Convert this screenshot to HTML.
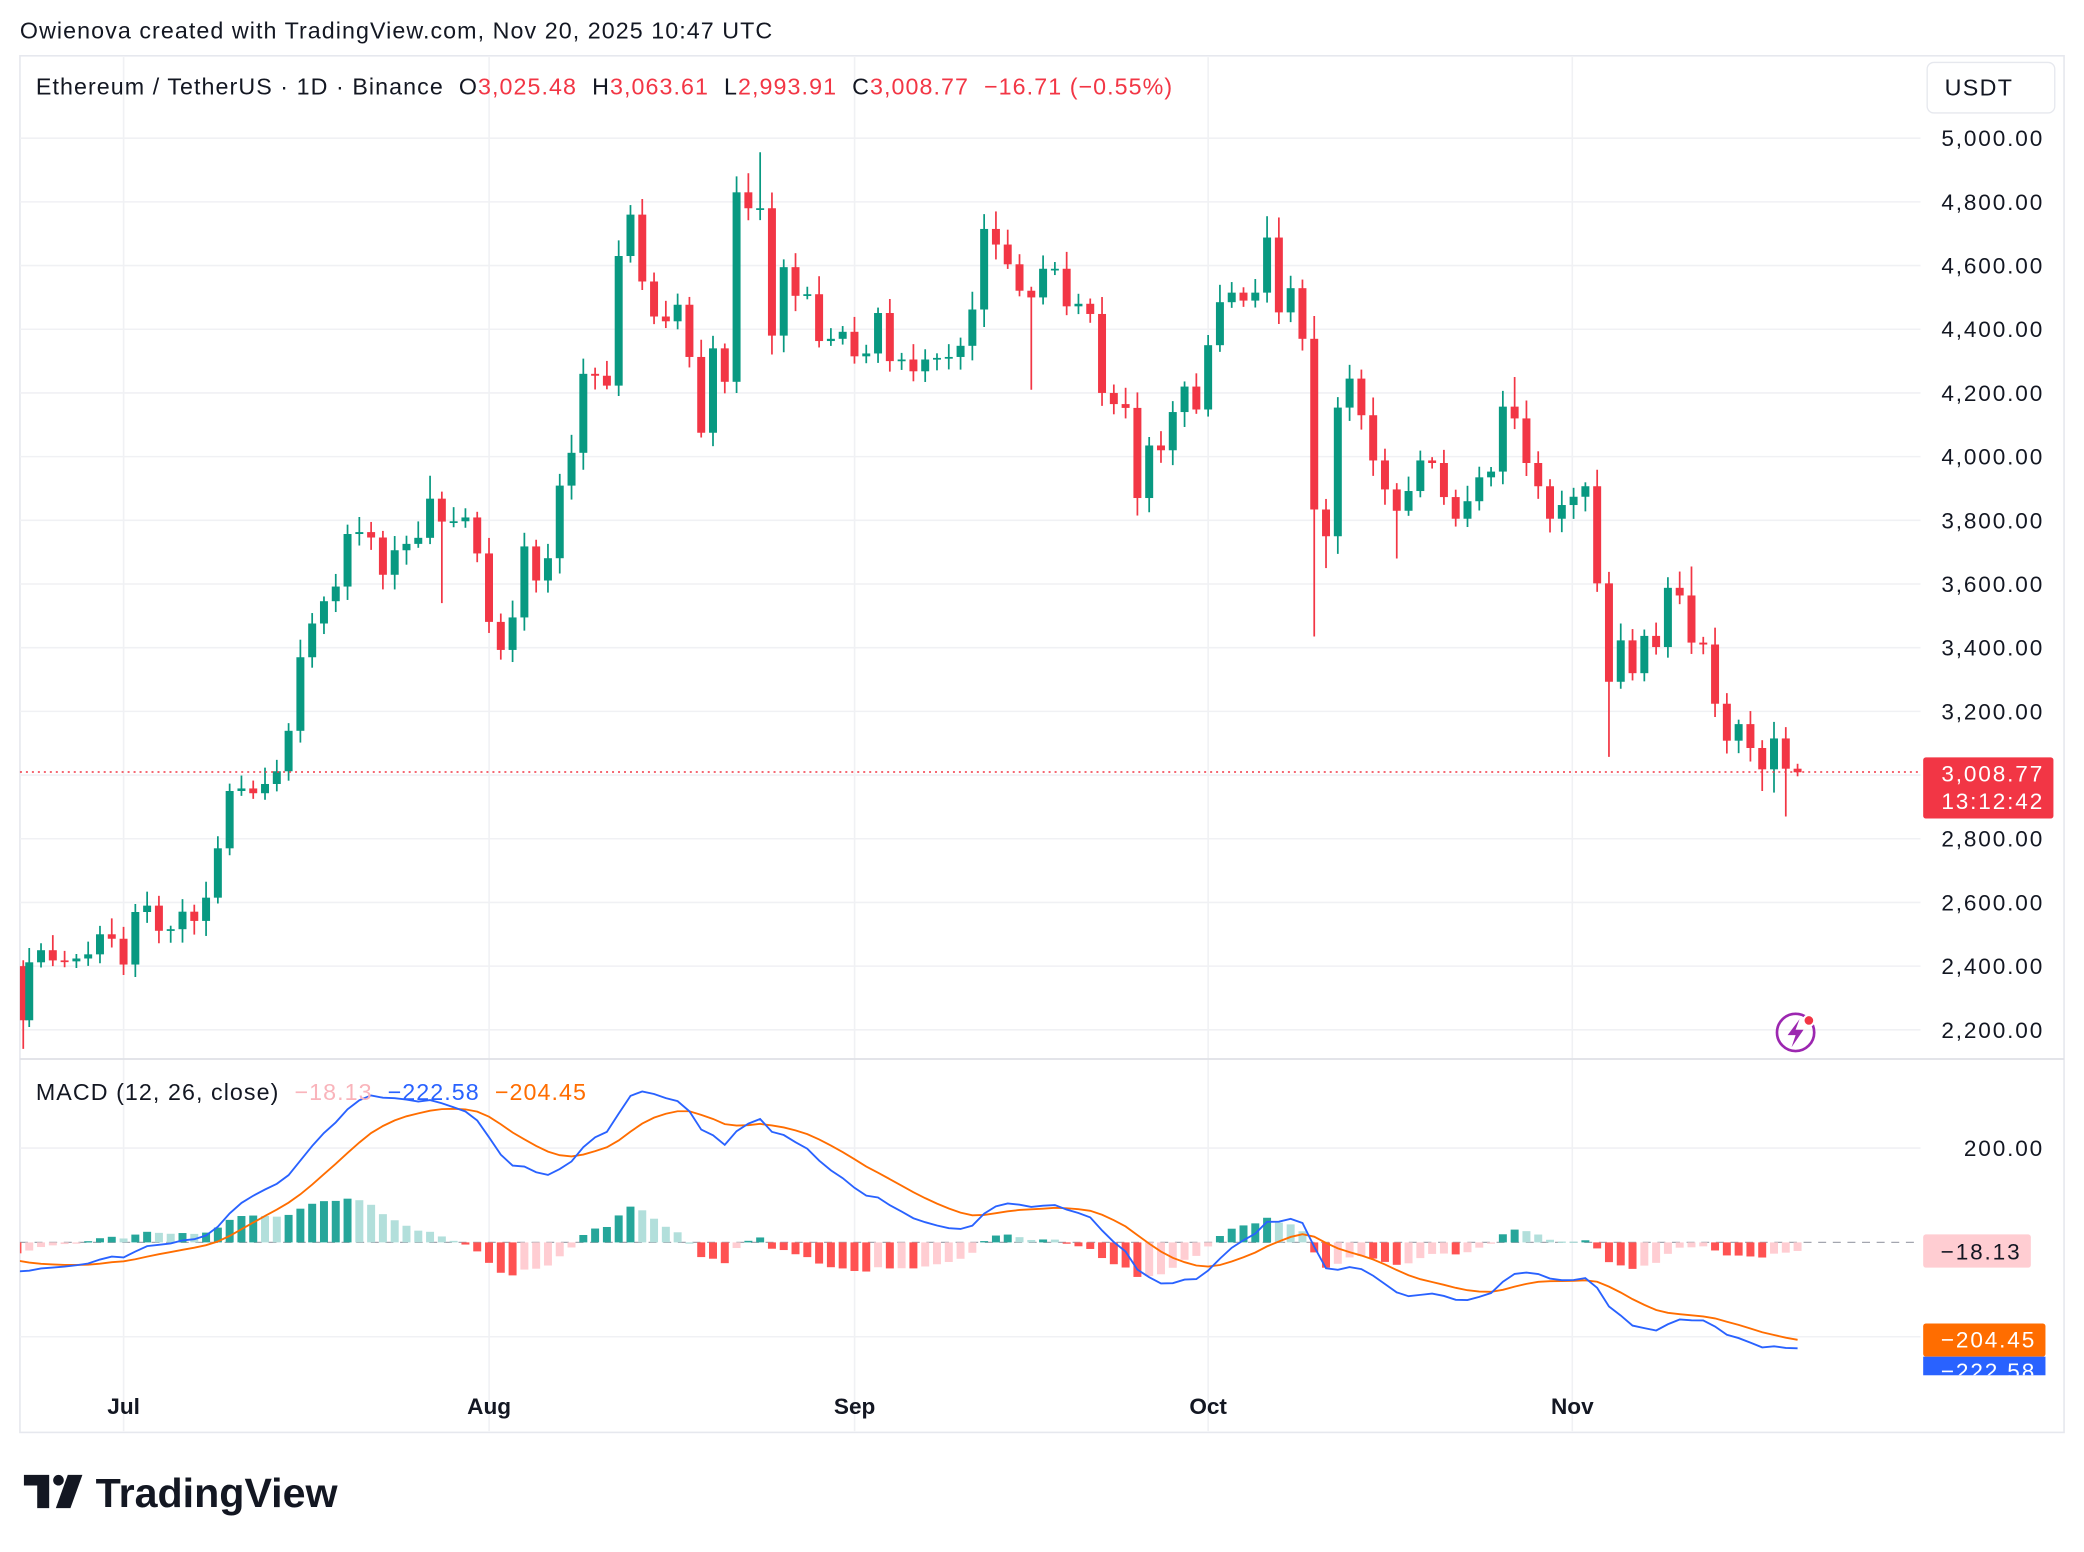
<!DOCTYPE html>
<html><head><meta charset="utf-8"><style>
html,body{margin:0;padding:0;background:#fff;}
svg{display:block;font-family:"Liberation Sans",Arial,sans-serif;}
.pre{white-space:pre;}
</style></head><body>
<svg id="s" width="2084" height="1552" viewBox="0 0 1568 1168" preserveAspectRatio="none" xmlns="http://www.w3.org/2000/svg">
<defs><clipPath id="mc"><rect x="15" y="798" width="1430" height="242"/></clipPath>
<clipPath id="pc"><rect x="15" y="86" width="1430" height="711"/></clipPath></defs>
<rect x="0" y="0" width="1568" height="1168" fill="#fff"/>
<text x="15" y="29" font-size="17.5" letter-spacing="0.8" fill="#131722">Owienova created with TradingView.com, Nov 20, 2025 10:47 UTC</text>
<rect x="15" y="42" width="1538" height="1036" fill="none" stroke="#e6e8ee" stroke-width="1.2"/>
<g id="grid"></g>
<g id="candles" clip-path="url(#pc)"></g>
<g id="macd" clip-path="url(#mc)"></g>
<line x1="15" y1="797" x2="1553" y2="797" stroke="#dfe1e6" stroke-width="1.3"/>
<line x1="15" y1="581" x2="1445" y2="581" stroke="#f23645" stroke-width="1.2" stroke-dasharray="1.5 3"/>
<text class="pre" x="27" y="71" font-size="17.5" letter-spacing="0.8" fill="#131722">Ethereum / TetherUS · 1D · Binance  O<tspan fill="#f23645">3,025.48</tspan>  H<tspan fill="#f23645">3,063.61</tspan>  L<tspan fill="#f23645">2,993.91</tspan>  C<tspan fill="#f23645">3,008.77  −16.71 (−0.55%)</tspan></text>
<rect x="1450" y="47" width="96" height="38" rx="5" fill="#fff" stroke="#e6e8ee"/>
<text x="1489" y="72" font-size="17.5" letter-spacing="1" fill="#131722" text-anchor="middle">USDT</text>
<g id="axis" font-size="17" letter-spacing="1.4" fill="#131722" text-anchor="end"></g>
<rect x="1447" y="570" width="98" height="46" rx="2" fill="#f23645"/>
<text x="1538" y="588" font-size="17" letter-spacing="1.4" fill="#fff" text-anchor="end">3,008.77</text>
<text x="1538" y="609" font-size="17" letter-spacing="1.4" fill="#fff" text-anchor="end">13:12:42</text>
<text x="1538" y="870" font-size="17" letter-spacing="1.4" fill="#131722" text-anchor="end">200.00</text>
<rect x="1447" y="929" width="81" height="25" rx="2" fill="#ffcdd2"/>
<text x="1521" y="948" font-size="17" letter-spacing="1.4" fill="#131722" text-anchor="end">−18.13</text>
<rect x="1447" y="996" width="92" height="25" rx="2" fill="#ff6d00"/>
<text x="1532" y="1014" font-size="17" letter-spacing="1.4" fill="#fff" text-anchor="end">−204.45</text>
<rect x="1447" y="1021" width="92" height="14" fill="#2962ff"/>
<svg x="1447" y="1021" width="92" height="14" overflow="hidden"><text x="85" y="17" font-size="17" letter-spacing="1.4" fill="#fff" text-anchor="end">−222.58</text></svg>
<text class="pre" x="27" y="828" font-size="17.5" letter-spacing="0.8" fill="#131722">MACD (12, 26, close)  <tspan fill="#f9b4bb">−18.13</tspan>  <tspan fill="#2962ff">−222.58</tspan>  <tspan fill="#ff6d00">−204.45</tspan></text>
<g font-size="17" fill="#131722" text-anchor="middle" font-weight="bold">
<text x="93" y="1064">Jul</text><text x="368" y="1064">Aug</text><text x="643" y="1064">Sep</text><text x="909" y="1064">Oct</text><text x="1183" y="1064">Nov</text></g>
<circle cx="1351" cy="777" r="14" fill="none" stroke="#9c27b0" stroke-width="2"/>
<path d="M1354 767 L1345 779 L1351 779 L1348 788 L1357 775 L1351 775 Z" fill="#9c27b0"/>
<circle cx="1361" cy="768" r="4" fill="#f23645" stroke="#fff" stroke-width="1.5"/>
<g fill="#131722">
<path d="M18 1110 H37 V1135 H28 V1118 H18 Z"/>
<circle cx="44" cy="1114" r="4"/>
<path d="M51 1110 H62 L53 1135 H42 Z"/>
<text x="72" y="1134" font-size="31" font-weight="bold">TradingView</text></g>
</svg>
<script>
(function(){
var NS="http://www.w3.org/2000/svg";
function el(p,t,a){var e=document.createElementNS(NS,t);for(var k in a)e.setAttribute(k,a[k]);p.appendChild(e);return e;}
var py=function(p){return 104+(5000-p)*47.93/200;};
var my=function(v){return 935-v*0.355;};
var grid=document.getElementById('grid'),axis=document.getElementById('axis');
[93,368,643,909,1183].forEach(function(x){el(grid,'line',{x1:x,y1:43,x2:x,y2:1077,stroke:'#f0f1f4','stroke-width':1.2});});
for(var p=2200;p<=5000;p+=200){var y=py(p);el(grid,'line',{x1:15,y1:y,x2:1445,y2:y,stroke:'#f0f1f4','stroke-width':1.2});
 var t=el(axis,'text',{x:1538,y:y+6});t.textContent=(p/1000|0)+','+String(p%1000).padStart(3,'0')+'.00';}
el(grid,'line',{x1:15,y1:864,x2:1445,y2:864,stroke:'#f0f1f4','stroke-width':1.2});
el(grid,'line',{x1:15,y1:1006,x2:1445,y2:1006,stroke:'#f0f1f4','stroke-width':1.2});
el(grid,'line',{x1:15,y1:935,x2:1445,y2:935,stroke:'#a3a6af','stroke-width':1,'stroke-dasharray':'6 5'});
var C=[2230,2412,2450,2418,2415,2424,2437,2500,2486,
2405,2570,2590,2511,2516,2571,2542,2615,2770,2950,2958,2943,2972,3012,3139,3370,3476,3546,3592,3757,3763,3746,3629,3706,3726,3745,3868,3796,3797,3809,3696,
3481,3393,3495,3718,3611,3681,3909,4012,4260,4254,4223,4630,4760,4550,4440,4425,4477,4313,4075,4340,4235,4830,4780,4780,4380,4595,4505,4510,4363,4370,4392,
4315,4324,4451,4300,4305,4268,4305,4310,4313,4348,4462,4715,4666,4604,4521,4500,4590,4590,4472,4480,4448,4200,4165,4153,3870,4035,4020,4140,4220,4148,
4350,4485,4515,4490,4515,4688,4453,4529,4370,3834,3750,4154,4245,4130,3988,3897,3830,3892,3988,3980,3873,3805,3860,3935,3953,4157,4120,3980,3907,3805,3848,
3874,3907,3602,3293,3423,3320,3437,3402,3588,3564,3416,3410,3224,3108,3160,3085,3018,3115,3020,3008.77];
var warm=[];for(var i=0;i<60;i++){warm.push(2600+60*Math.sin(i/5)-(i>45?(i-45)*8:0));}
var ov={};ov[63]={h:4956};ov[110]={l:3435};ov[135]={l:3057};ov[148]={l:2950};ov[149]={l:2945};ov[150]={l:2870};
ov[0]={l:2140};ov[35]={h:3940};ov[62]={h:4890};ov[83]={h:4770};ov[106]={h:4755};ov[127]={h:4250};ov[142]={h:3655};
ov[117]={l:3680};ov[95]={l:3815};ov[111]={l:3650};ov[42]={l:3355};ov[86]={l:4210};ov[36]={l:3540};ov[58]={l:4060};
ov[61]={l:4200,h:4880};ov[52]={h:4790};
var cg=document.getElementById('candles');
var prev=2400;
for(var i=0;i<C.length;i++){
 var o=prev,c=C[i];prev=c;var x=22+(i-1)*8.87;
 if(i==0)x=17.5;
 var d=Math.abs(c-o),r=((i*37)%60);
 var h=Math.max(o,c)+0.05*d+10+r*0.7,l=Math.min(o,c)-0.05*d-10-((i*53)%50)*0.7;
 if(ov[i]){if(ov[i].h)h=ov[i].h;if(ov[i].l)l=ov[i].l;}
 var col=c>=o?'#089981':'#f23645';
 el(cg,'line',{x1:x,y1:py(h),x2:x,y2:py(l),stroke:col,'stroke-width':1.3});
 var y1=py(Math.max(o,c)),y2=py(Math.min(o,c));
 el(cg,'rect',{x:x-3,y:y1,width:6,height:Math.max(1.3,y2-y1),fill:col});
}
var all=warm.concat(C);
function ema(a,n){var k=2/(n+1),r=[],e=a[0];for(var i=0;i<a.length;i++){e=i?a[i]*k+e*(1-k):a[0];r.push(e);}return r;}
var e12=ema(all,12),e26=ema(all,26),m=e12.map(function(v,i){return v-e26[i];}),s=ema(m,9);
var off=warm.length,mg=document.getElementById('macd');
var pm='',ps='';
for(var i=0;i<C.length;i++){
 var x=22+(i-1)*8.87,mv=m[off+i],sv=s[off+i],hv=mv-sv,hp=m[off+i-1]-s[off+i-1];
 var col=hv>=0?(hv>=hp?'#26a69a':'#b2dfdb'):(hv<hp?'#ff5252':'#ffcdd2');
 var y0=my(0),yh=my(hv);
 el(mg,'rect',{x:x-3,y:Math.min(y0,yh),width:6,height:Math.max(1,Math.abs(yh-y0)),fill:col});
 pm+=(i?'L':'M')+x.toFixed(1)+' '+my(mv).toFixed(1);
 ps+=(i?'L':'M')+x.toFixed(1)+' '+my(sv).toFixed(1);
}
el(mg,'path',{d:ps,fill:'none',stroke:'#ff6d00','stroke-width':1.4});
el(mg,'path',{d:pm,fill:'none',stroke:'#2962ff','stroke-width':1.4});
})();
</script>
</body></html>
